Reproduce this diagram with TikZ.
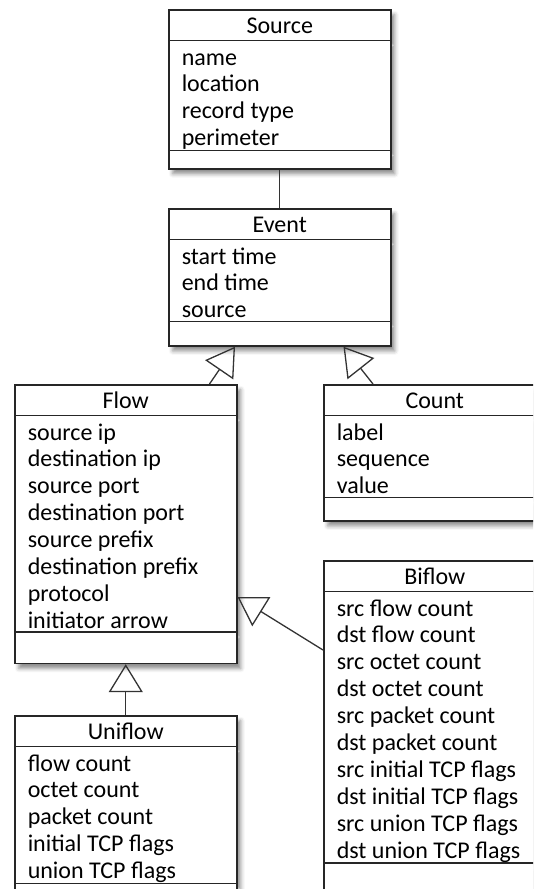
\documentclass[tikz,border=0pt]{standalone}
\usepackage{fontspec}
\setmainfont{Carlito}
\usepackage{tikz}
\usetikzlibrary{shapes.multipart, arrows.meta, shadows.blur}

\newcommand\clsname[1]{\null\hfill\rule[-6pt]{0pt}{29pt}#1\hfill\null}
\newcommand\clsattrs[1]{\lineskiplimit=-100pt\spaceskip=5.5pt\relax\rule{0pt}{24pt}#1\rule[-2.9pt]{0pt}{2.9pt}}

\tikzset{
  umlclass/.style={
    rectangle split, rectangle split parts=3,
    anchor=north west, draw=black!85, line width=1.5pt, fill=white,
    text width=196pt, inner xsep=13pt, inner ysep=0pt,
    font={\fontsize{24pt}{26.9pt}\selectfont},
    blur shadow={shadow xshift=4pt, shadow yshift=-5pt, shadow blur radius=4pt, shadow opacity=45}
  },
  assoc/.style={draw=black!80, line width=1.3pt},
  inherits/.style={assoc, -{Triangle[open, length=28pt, width=34pt]}}
}

\begin{document}
\begin{tikzpicture}[x=1pt, y=-1pt]
  \useasboundingbox (0,0) rectangle (533,889);
  \clip (0,0) rectangle (533,889);

  \node[umlclass] (source) at (168,9) {\clsname{Source}
    \nodepart{two}\clsattrs{name\\location\\record type\\perimeter}
    \nodepart{three}\rule{0pt}{17pt}};

  \node[umlclass] (event) at (168,208) {\clsname{Event}
    \nodepart{two}\clsattrs{start time\\end time\\source}
    \nodepart{three}\rule{0pt}{23pt}};

  \node[umlclass] (flow) at (14,384) {\clsname{Flow}
    \nodepart{two}\clsattrs{source ip\\destination ip\\source port\\destination port\\source prefix\\destination prefix\\protocol\\initiator arrow}
    \nodepart{three}\rule{0pt}{30pt}};

  \node[umlclass] (count) at (323,384) {\clsname{Count}
    \nodepart{two}\clsattrs{label\\sequence\\value}
    \nodepart{three}\rule{0pt}{22pt}};

  \node[umlclass] (biflow) at (323,560) {\clsname{Biflow}
    \nodepart{two}\clsattrs{src flow count\\dst flow count\\src octet count\\dst octet count\\src packet count\\dst packet count\\src initial TCP flags\\dst initial TCP flags\\src union TCP flags\\dst union TCP flags}
    \nodepart{three}\rule{0pt}{30pt}};

  \node[umlclass] (uniflow) at (14,715) {\clsname{Uniflow}
    \nodepart{two}\clsattrs{flow count\\octet count\\packet count\\initial TCP flags\\union TCP flags}
    \nodepart{three}\rule{0pt}{30pt}};

  \draw[assoc] (source.south) -- (event.north);
  \draw[inherits] ([xshift=-28pt]flow.north east) -- ([xshift=67pt]event.south west);
  \draw[inherits] ([xshift=50pt]count.north west) -- ([xshift=-48pt]event.south east);
  \draw[inherits] (uniflow.north) -- (flow.south);
  \draw[inherits] ([yshift=-90pt]biflow.north west) -- ([yshift=-213pt]flow.north east);
\end{tikzpicture}
\end{document}
